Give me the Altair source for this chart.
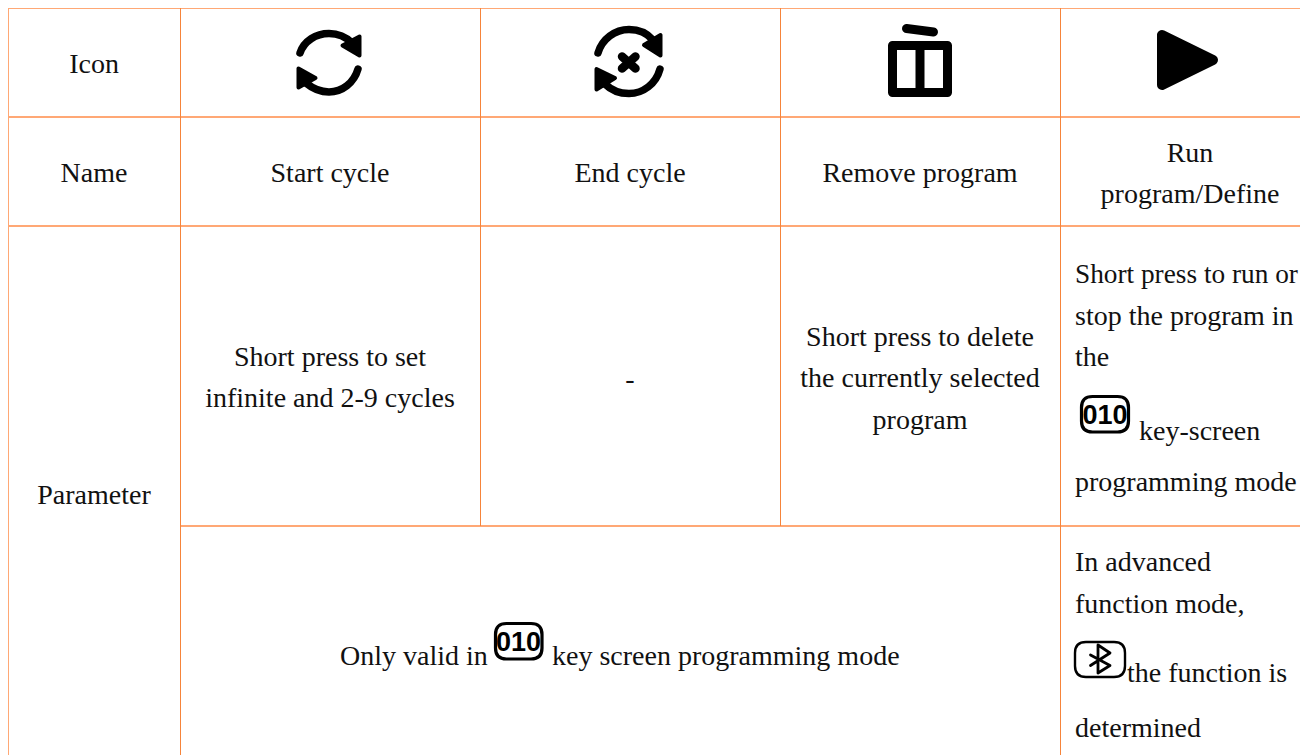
import re
import altair as alt
import pandas as pd

# ---- table grid ----
LIGHT_X1 = [8, 8, 8, 180, 8]
LIGHT_X2 = [1308, 1308, 1308, 1308, 8]
LIGHT_Y1 = [8, 117, 226, 526, 8]
LIGHT_Y2 = [8, 117, 226, 526, 755]

DARK_X = [180.5, 480.5, 780.5, 1060.5]
DARK_Y1 = [8, 8, 8, 8]
DARK_Y2 = [755, 526, 526, 755]

# ---- centred text ----
CENTER_TEXT = ["Icon", "Name", "Parameter", "Start cycle", "End cycle", "Remove program",
               "Run", "program/Define", "Short press to set", "infinite and 2-9 cycles", "-",
               "Short press to delete", "the currently selected", "program"]
CENTER_X = [94, 94, 94, 330, 630, 920, 1190, 1190, 330, 330, 630, 920, 920, 920]
CENTER_Y = [73, 182, 504, 182, 182, 182, 162, 203, 366, 407, 388, 346, 387, 429]

# ---- left aligned text ----
LEFT_TEXT = ["stop the program in", "the", "key-screen", "programming mode",
             "In advanced", "function mode,", "the function is", "determined",
             "Only valid in", "key screen programming mode"]
LEFT_X = [1075, 1075, 1139, 1075, 1075, 1075, 1127, 1075, 340, 552]
LEFT_Y = [325, 366, 440, 491, 571, 613, 682, 737, 665, 665]

# the one line that would run past the picture's right limit
TIGHT_TEXT = ["Short press to run or"]
TIGHT_X = [1075]
TIGHT_Y = [283]

# ---- "010" key-screen badges ----
BADGE_TEXT = ["010", "010"]
BADGE_X = [1105, 518.5]
BADGE_Y = [424, 651]


# ---- icons ----
def rrect(x0, y0, x1, y1, r):
    return (f"M{x0+r} {y0} L{x1-r} {y0} Q{x1} {y0} {x1} {y0+r} L{x1} {y1-r} Q{x1} {y1} {x1-r} {y1} "
            f"L{x0+r} {y1} Q{x0} {y1} {x0} {y1-r} L{x0} {y0+r} Q{x0} {y0} {x0+r} {y0} Z")


ICON_STROKE_PATHS = [
    "M300 53 C304 41 316 33.5 329 33.5 C338 33.5 346 37 352 43 "
    "M358 69 C354 83 342 92 329 92 C320 92 312 88 306 83",
    "M598 53 C602 39 615 29.5 629 29.5 C638 29.5 647 33 653 40 "
    "M660 69 C656 84 643 93.5 629 93.5 C620 93.5 611 90 605 84",
    "M622 56.5 L635.5 68.5 M635.5 56.5 L622 68.5",
    "M892.5 45.5 L947.5 45.5 L947.5 92.5 L892.5 92.5 Z M920 45.5 L920 92.5",
    "M906.5 28.5 L933.5 32",
    rrect(1081.5, 396.5, 1128.5, 432, 11),
    rrect(495.5, 623.5, 542, 659, 11),
    rrect(1075, 642, 1125, 677, 11),
    "M1090.5 655 L1110 665.5 L1098 673 L1098 645 L1110 653 L1090.5 665.5",
]
ICON_STROKE_CX = [329, 629, 629, 920, 920, 1105, 518.5, 1100, 1100]
ICON_STROKE_CY = [62, 62, 62, 62, 62, 414, 641, 660, 660]
ICON_STROKE_WIDTH = [7.5, 7.5, 8.5, 9, 9, 3.2, 3.2, 2.4, 2.8]

ICON_FILL_PATHS = [
    "M359.5 36.5 L359.5 55.5 L342.5 45.5 Z M298.5 68.5 L298.5 87.5 L315.5 78 Z",
    "M660.5 35 L660.5 55.5 L644 45 Z M596.5 69 L596.5 89.5 L615 78 Z",
    "M1162 35 L1162 85 L1213 60 Z",
]
ICON_FILL_CX = [329, 629, 1188]
ICON_FILL_CY = [62, 62, 60]
ICON_FILL_STROKE = [4, 4, 10]

HALF = 40  # half of the symbol box in px

LINE_LIGHT = "#ffa875"
LINE_DARK = "#f6843a"
TEXT_COLOR = "#111111"
SERIF = "Liberation Serif"


def norm(path, cx, cy):
    out, is_x = [], True
    for tok in re.findall(r"[A-Za-z]|-?\d+\.?\d*", path):
        if tok.isalpha():
            out.append(tok)
            is_x = True
        else:
            v = float(tok)
            out.append(f"{(v - (cx if is_x else cy)) / HALF:.4f}")
            is_x = not is_x
    return " ".join(out)


x_scale = alt.Scale(domain=[8, 1300], range=[0, 1292], nice=False, zero=False)
y_scale = alt.Scale(domain=[8, 755], range=[0, 747], nice=False, zero=False)
X = alt.X("x:Q", scale=x_scale, axis=None)
Y = alt.Y("y:Q", scale=y_scale, axis=None)

light = alt.Chart(pd.DataFrame({"x": LIGHT_X1, "x2": LIGHT_X2, "y": LIGHT_Y1, "y2": LIGHT_Y2})).mark_rule(
    color=LINE_LIGHT, strokeWidth=2).encode(x=X, y=Y, x2="x2:Q", y2="y2:Q")
dark = alt.Chart(pd.DataFrame({"x": DARK_X, "y": DARK_Y1, "y2": DARK_Y2})).mark_rule(
    color=LINE_DARK, strokeWidth=1).encode(x=X, y=Y, y2="y2:Q")


def text_layer(labels, xs, ys, align, font=SERIF, size=28, color=TEXT_COLOR, weight="normal"):
    return alt.Chart(pd.DataFrame({"t": labels, "x": xs, "y": ys})).mark_text(
        font=font, fontSize=size, align=align, baseline="alphabetic", color=color, fontWeight=weight
    ).encode(x=X, y=Y, text="t:N")


layers = [
    light,
    dark,
    text_layer(CENTER_TEXT, CENTER_X, CENTER_Y, "center"),
    text_layer(LEFT_TEXT, LEFT_X, LEFT_Y, "left"),
    text_layer(TIGHT_TEXT, TIGHT_X, TIGHT_Y, "left", size=27.3),
    text_layer(BADGE_TEXT, BADGE_X, BADGE_Y, "center", font="Liberation Sans", size=27,
               color="#000000", weight="bold"),
]
size = (2 * HALF) ** 2
for p, cx, cy, w in zip(ICON_STROKE_PATHS, ICON_STROKE_CX, ICON_STROKE_CY, ICON_STROKE_WIDTH):
    layers.append(alt.Chart(pd.DataFrame({"x": [cx], "y": [cy]})).mark_point(
        shape=norm(p, cx, cy), size=size, filled=False, stroke="#000000", strokeWidth=w,
        strokeCap="round", strokeJoin="round", opacity=1
    ).encode(x=X, y=Y))
for p, cx, cy, w in zip(ICON_FILL_PATHS, ICON_FILL_CX, ICON_FILL_CY, ICON_FILL_STROKE):
    layers.append(alt.Chart(pd.DataFrame({"x": [cx], "y": [cy]})).mark_point(
        shape=norm(p, cx, cy), size=size, filled=True, fill="#000000", stroke="#000000", strokeWidth=w,
        strokeJoin="round", opacity=1
    ).encode(x=X, y=Y))

chart = alt.layer(*layers).properties(
    width=1292, height=747, padding=0, background="white",
    autosize=alt.AutoSizeParams(type="none", contains="padding"),
).configure_view(stroke=None)
chart.save("out.html", embed_options={"renderer": "svg", "actions": False})
